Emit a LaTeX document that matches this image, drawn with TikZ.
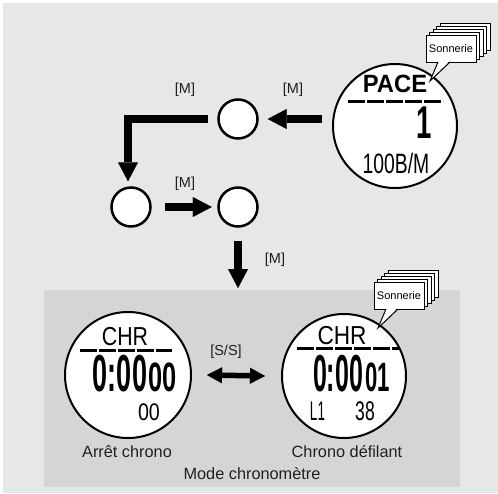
\documentclass[tikz,border=0pt]{standalone}
\usepackage{fontspec}
\usepackage{graphicx}
\setmainfont{Liberation Sans}
\usetikzlibrary{arrows.meta,calc,positioning}

\definecolor{fondgris}{HTML}{E6E7E8}
\definecolor{boitegris}{HTML}{D4D5D6}
\definecolor{encre}{HTML}{231F20}

% texte d'afficheur : echelle horizontale, taille, texte
\newcommand{\ecr}[3]{\scalebox{#1}[1]{\fontsize{#2}{#2}\selectfont #3}}

% pile de cartes "Sonnerie" : nom, bord gauche, bas de la carte avant
\newcommand{\pilesonnerie}[3]{%
  \foreach \k in {4,3,2,1}
    \draw[carte] (#2+3.5*\k,#3-3*\k) rectangle ++(50,-27);
  \node[carte,minimum width=50pt,minimum height=27pt,inner sep=0pt,
        font=\fontsize{11}{12}\selectfont] (#1) at (#2+25,#3-13.5) {Sonnerie};
  \coordinate (#1-a) at (#2+12,#3);
  \coordinate (#1-b) at (#2+24,#3);
  \coordinate (#1-pointe) at (#2+4,#3+19);
  \fill[white] ($(#1-a)+(0.6,-1)$) -- (#1-pointe) -- ($(#1-b)+(-0.6,-1)$) -- cycle;
  \draw[line width=1pt,line join=miter] (#1-a) -- (#1-pointe) -- (#1-b);
}

\tikzset{
  etat/.style={circle,draw,fill=white,line width=2.5pt,minimum size=39pt,inner sep=0pt},
  ecran/.style={circle,draw,fill=white,line width=2pt,inner sep=0pt},
  fleche/.style={line width=8pt,-{Triangle[length=19pt,width=20pt,line width=0.01pt]}},
  double/.style={line width=5.5pt,{Triangle[length=15pt,width=16pt,line width=0.01pt]}-{Triangle[length=15pt,width=16pt,line width=0.01pt]}},
  etiq/.style={font=\fontsize{14.5}{16}\selectfont,inner sep=0pt,text=encre},
  legende/.style={font=\fontsize{16.3}{18}\selectfont,inner sep=0pt,text=encre},
  carte/.style={draw,fill=white,line width=1pt},
  lcd/.style={inner sep=0pt},
  souligne/.style={line width=3pt,dash pattern=on 17pt off 2pt},
}

\begin{document}
\begin{tikzpicture}[x=1pt,y=-1pt]
  \useasboundingbox (0,0) rectangle (498,493);
  % fonds
  \fill[white] (0,0) rectangle (498,493);
  \fill[fondgris] (2.5,2.5) rectangle (498,493);
  \fill[boitegris] (44,290) rectangle (460,487);
  \coordinate (boitehaut) at (238,290);

  % ecran PACE
  \node[ecran,minimum size=124pt] (pace) at (395,126) {};
  \node[lcd] (pace-titre) at (395,84) {\ecr{0.95}{25}{\bfseries PACE}};
  \draw[souligne] (348,101) -- (443,101);
  \node[lcd] (pace-val) at (424,123) {\ecr{0.6}{46}{\bfseries 1}};
  \node[lcd] (pace-bas) at (396,163) {\ecr{0.69}{28}{100B/M}};
  \pilesonnerie{son1}{426}{62}

  % etats intermediaires
  \node[etat] (c1) at (238,119) {};
  \node[etat] (c2) at (131,207) {};
  \node[etat] (c3) at (238,207) {};

  % fleches [M]
  \draw[fleche] ($(pace.west |- c1.east)+(-10,0)$) -- ($(c1.east)+(9,0)$);
  \draw[fleche,line join=miter] ($(c1.west)+(-9.5,0)$) -| ($(c2.north)+(-3,-5)$);
  \draw[fleche] ($(c2.east)+(13.5,0)$) -- ($(c3.west)+(-5.5,0)$);
  \draw[fleche] ($(c3.south)+(0,13.5)$) -- ($(boitehaut)+(0,-2)$);
  \node[etiq] (m1) at (185,90) {[M]};
  \node[etiq] (m2) at (293,90) {[M]};
  \node[etiq] (m3) at (185,184) {[M]};
  \node[etiq] (m4) at (275,260) {[M]};

  % ecran arret chrono
  \node[ecran,minimum size=126pt] (arret) at (128,375) {};
  \node[lcd] (arret-titre) at (125,337) {\ecr{0.82}{26}{CHR}};
  \draw[souligne] (80,350) -- (172,350);
  \node[lcd] (arret-temps) at (120,373.5) {\ecr{0.52}{52}{\bfseries 0:00}};
  \node[lcd] (arret-cent) at (162.5,377.5) {\ecr{0.62}{41}{\bfseries 00}};
  \node[lcd] (arret-bas) at (149,412) {\ecr{0.82}{24}{00}};

  % ecran chrono defilant
  \node[ecran,minimum size=124pt] (defil) at (344,376) {};
  \node[lcd] (defil-titre) at (342,336) {\ecr{0.87}{26}{CHR}};
  \draw[souligne] (297,348) -- (400,348);
  \node[lcd] (defil-temps) at (338,373.5) {\ecr{0.48}{52}{\bfseries 0:00}};
  \node[lcd] (defil-cent) at (377.5,377.5) {\ecr{0.54}{41}{\bfseries 01}};
  \node[lcd] (defil-tour) at (317.5,411) {\ecr{0.5}{27}{L1}};
  \node[lcd] (defil-bas) at (365,411) {\ecr{0.65}{27}{38}};
  \pilesonnerie{son2}{374}{309}

  % [S/S]
  \draw[double] ($(arret.east)+(15,0)$) -- ($(defil.west)+(-16,0)$);
  \node[etiq] (ss) at (226,352) {[S/S]};

  % legendes
  \node[legende] (larret) at (127,452) {Arrêt chrono};
  \node[legende] (ldefil) at (347,452) {Chrono défilant};
  \node[legende] (lmode) at (252,474) {Mode chronomètre};
\end{tikzpicture}
\end{document}
